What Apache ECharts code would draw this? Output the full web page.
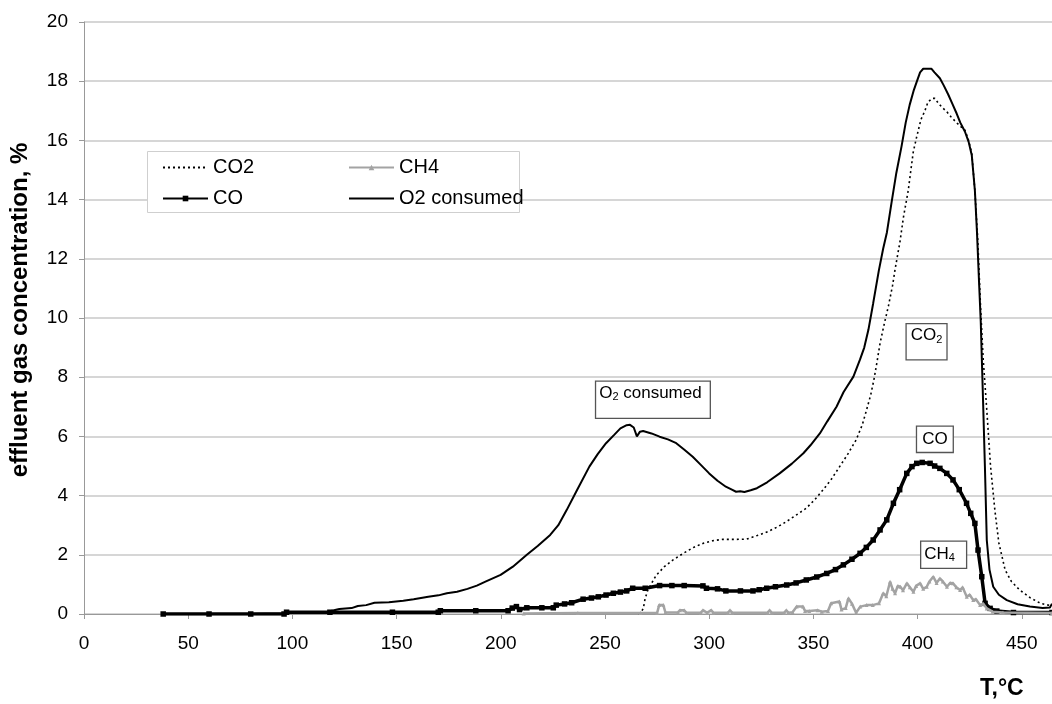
<!DOCTYPE html>
<html>
<head>
<meta charset="utf-8">
<script src="https://cdn.jsdelivr.net/npm/echarts@6/dist/echarts.min.js"></script>
<style>
html,body{margin:0;padding:0;background:#fff;}
#chart{width:1052px;height:704px;}
</style>
</head>
<body>
<div id="chart"></div>
<script>
// ---- data (temperature °C, concentration %) ----
const co2Data = [
  [266,0],[267.5,0.08],[268.4,0.19],[269.2,0.5],[270.5,0.8],[272.4,1.04],[274.5,1.3],[278.5,1.6],
  [282.5,1.82],[287.6,2.05],[292.5,2.25],[297.5,2.4],[302,2.48],[306.5,2.52],[312,2.52],[318,2.53],
  [323,2.65],[328,2.78],[333,2.95],[337,3.12],[341.5,3.33],[346.5,3.57],[350.5,3.85],[354.6,4.19],
  [358.6,4.55],[362.6,4.98],[366.5,5.4],[370.5,5.88],[373.5,6.4],[375.5,6.89],[377.5,7.4],[379,7.9],
  [380.5,8.5],[382,9.15],[384,9.8],[386,10.4],[388,11.1],[389.1,11.6],[391.6,12.6],[393.2,13.4],
  [395.5,14.3],[397.9,15.6],[399.5,16.1],[401.6,16.7],[403.5,17.0],[405,17.3],[407,17.42],[408.3,17.42],
  [410,17.25],[412,17.1],[414,16.97],[416,16.8],[418.7,16.6],[421,16.45],[422.7,16.35],[424.5,16.0],
  [426,15.56],[427.5,14.3],[428.9,12.6],[430.2,10.4],[431.5,8.6],[433.2,6.9],[435,5.0],[437.1,3.5],
  [439,2.4],[442,1.49],[445,1.1],[449,0.81],[454,0.55],[459,0.36],[464.5,0.27]
];
const coData = [
  [38,0],[60,0],[80,0],[96,0],[97.2,0.06],[118,0.06],[148,0.06],[170,0.06],[171,0.11],[188,0.11],
  [203.5,0.11],[205.5,0.2],[207.5,0.25],[209,0.15],[212.5,0.21],[219.7,0.21],[225.2,0.21],[226.6,0.3],
  [230.6,0.34],[234,0.38],[239.5,0.5],[243.5,0.54],[246.8,0.58],[250.5,0.64],[254,0.7],[257.4,0.74],
  [260.4,0.78],[263.3,0.87],[269.3,0.87],[276.2,0.96],[282.1,0.96],[288,0.96],[297,0.95],[298.7,0.87],
  [304,0.85],[308,0.78],[315,0.78],[321,0.78],[324,0.82],[327.6,0.87],[331.8,0.92],[337.2,0.98],
  [341.7,1.05],[346.6,1.15],[351.6,1.25],[356.4,1.37],[360.6,1.5],[364.4,1.66],[368.5,1.85],[372.4,2.05],
  [375.4,2.25],[378.7,2.5],[382,2.84],[385.2,3.18],[388.4,3.74],[391.4,4.2],[394.8,4.75],[397.3,4.98],
  [399.6,5.09],[402.2,5.12],[406,5.09],[408.2,5.0],[410.7,4.92],[414,4.75],[417,4.53],[420,4.2],
  [423.5,3.74],[425.5,3.4],[427.5,3.06],[429,2.16],[430.8,1.26],[432.4,0.36],[434.8,0.19],[438,0.1],
  [446,0.05],[464.5,0.05]
];
const ch4Data = [
  [211,0.02],[237,0.03],[267,0.03],[275,0.03],[276,0.3],[278,0.3],[279,0.05],[285,0.05],[286,0.13],
  [288,0.13],[289,0.04],[296,0.04],[297,0.13],[299,0.04],[301,0.13],[302,0.04],[309,0.04],[310,0.13],
  [311,0.04],[328,0.04],[329,0.13],[330,0.04],[336,0.04],[337,0.13],[338,0.04],[340,0.06],[342,0.25],
  [345,0.25],[346,0.1],[348,0.1],[352,0.13],[354,0.08],[357,0.1],[358.5,0.36],[362.5,0.42],[363.5,0.15],
  [365.5,0.2],[366.8,0.53],[368.5,0.35],[370.5,0.04],[372.5,0.25],[375.5,0.3],[378.5,0.3],[381.5,0.36],
  [383.5,0.7],[385,0.6],[386.8,1.09],[388,0.85],[389.2,0.7],[390.5,0.95],[391.7,0.92],[393,0.8],
  [394.9,1.04],[396.3,0.9],[398,0.75],[399.3,0.95],[401.2,1.04],[402.7,0.85],[404.4,0.92],[405.7,1.1],
  [407.5,1.26],[409.1,1.05],[410.7,1.2],[412.1,1.1],[414.1,0.92],[415.6,1.05],[417,1.04],[418.6,0.9],
  [420.4,0.81],[421.6,0.9],[423.6,0.58],[425,0.65],[426.7,0.47],[428,0.5],[430,0.3],[431.5,0.35],
  [433.2,0.19],[436,0.08],[441,0.05],[464.5,0.03]
];
const o2Data = [
  [38,0],[59,0],[79,0],[95.7,0.02],[98.7,0.05],[108.6,0.05],[116.5,0.06],[119.5,0.12],[122.5,0.17],
  [128.4,0.2],[131.4,0.27],[135.4,0.3],[139.4,0.38],[146.3,0.4],[153.2,0.45],[158.2,0.5],[165.2,0.58],
  [170.1,0.63],[174.1,0.7],[179,0.75],[184,0.85],[188.5,0.96],[192.9,1.1],[199.9,1.32],[205.8,1.6],
  [212.5,2.0],[217.7,2.3],[223.7,2.67],[227.6,3.0],[231.6,3.51],[236.6,4.19],[242.5,4.98],[246.5,5.4],
  [250.5,5.77],[254.4,6.05],[257.4,6.27],[260.4,6.38],[262,6.39],[263.8,6.3],[265.3,6.0],[266.8,6.16],
  [268.3,6.18],[272.3,6.1],[276.2,5.99],[280.2,5.9],[284.2,5.77],[288.1,5.55],[292.1,5.31],[296.1,5.03],
  [300,4.75],[304,4.5],[308,4.3],[310.9,4.2],[312.9,4.13],[314.9,4.15],[316.9,4.12],[319.9,4.18],
  [322.9,4.25],[327.8,4.45],[333.8,4.75],[339.7,5.08],[345.2,5.43],[348.6,5.7],[353.1,6.1],[356.6,6.5],
  [361.1,7.0],[364.5,7.5],[369.2,8.02],[372.4,8.6],[374.4,9.0],[376.4,9.6],[378.7,10.5],[381.4,11.6],
  [383.5,12.35],[385.3,12.9],[387.5,13.9],[389.8,14.9],[392.3,15.8],[394.3,16.6],[396.2,17.2],
  [398.2,17.7],[399.7,18.0],[401.2,18.3],[402.7,18.42],[406.7,18.42],[408.1,18.3],[410.7,18.1],
  [412.6,17.85],[414.7,17.55],[416.6,17.25],[418.8,16.9],[420.5,16.6],[422.7,16.3],[424.5,15.95],
  [426,15.5],[427.5,14.3],[428.5,12.9],[429.5,11.2],[430.3,9.9],[431.5,7.0],[432.3,5.0],[433.2,2.5],
  [434.5,1.5],[436.3,0.92],[439,0.65],[442.8,0.47],[448,0.33],[453.9,0.25],[460,0.2],[463.5,0.22],[464.5,0.35]
];
const seriesNames = ['CO2', 'CO', 'CH4', 'O2 consumed'];
const xRange = [0, 464.5];
const yRange = [0, 20];
const xTitle = 'T,°C';
const yTitle = 'effluent gas concentration, %';
// annotation labels anchored in data space [T, %]
const annotations = [
  { coord: [273.0, 7.24], text: '{a|O}{b|2}{a| consumed}' },
  { coord: [404.3, 9.2], text: '{a|CO}{b|2}' },
  { coord: [408.3, 5.9], text: '{a|CO}' },
  { coord: [412.5, 2.0], text: '{a|CH}{b|4}' }
];
const annotationPadding = [[2, 8, 15, 3], [2, 4, 14, 4], [3, 5, 3, 5], [3, 11, 4, 3]];

const FONT = 'Liberation Sans, Arial, sans-serif';
const chart = echarts.init(document.getElementById('chart'), null, { renderer: 'canvas' });
const noMarker = { color: 'rgba(0,0,0,0)', borderWidth: 0, opacity: 0 };
const legendText = { fontSize: 20, lineHeight: 21, color: '#000', fontFamily: FONT };

const option = {
  animation: false,
  backgroundColor: '#ffffff',
  textStyle: { fontFamily: FONT },
  grid: { left: 84, top: 22, right: 0, bottom: 90 },
  xAxis: {
    type: 'value', min: xRange[0], max: xRange[1], interval: 50,
    axisLine: { lineStyle: { color: '#999', width: 1 } },
    axisTick: { show: true, length: 5, lineStyle: { color: '#999' } },
    axisLabel: { fontSize: 19, color: '#000', margin: 20, showMaxLabel: false, fontFamily: FONT },
    splitLine: { show: false }
  },
  yAxis: {
    type: 'value', min: yRange[0], max: yRange[1], interval: 2,
    name: yTitle, nameLocation: 'middle', nameGap: 52, nameRotate: 90,
    nameTextStyle: { fontSize: 24, fontWeight: 'bold', color: '#000', fontFamily: FONT, padding: [0, 0, 0, 16] },
    axisLine: { show: true, lineStyle: { color: '#999', width: 1 } },
    axisTick: { show: true, length: 5, lineStyle: { color: '#999' } },
    axisLabel: { fontSize: 19, color: '#000', margin: 16, fontFamily: FONT },
    splitLine: { show: true, lineStyle: { color: '#c8c8c8', width: 1.5 } }
  },
  legend: [
    {
      orient: 'vertical', left: 162, top: 157, padding: 0, itemWidth: 45, itemHeight: 7, itemGap: 10, z: 10,
      data: [{ name: seriesNames[0], itemStyle: noMarker }, { name: seriesNames[1] }],
      textStyle: legendText
    },
    {
      orient: 'vertical', left: 348, top: 157, padding: 0, itemWidth: 45, itemHeight: 7, itemGap: 10, z: 10,
      data: [{ name: seriesNames[2] }, { name: seriesNames[3], itemStyle: noMarker }],
      textStyle: legendText
    }
  ],
  graphic: [
    {
      type: 'rect', z: 5, left: 147, top: 151,
      shape: { width: 372, height: 61 },
      style: { fill: '#fff', stroke: '#cfcfcf', lineWidth: 1 }
    },
    {
      type: 'text', z: 5, left: 980, top: 677,
      style: { text: xTitle, font: 'bold 23px ' + FONT, fill: '#000' }
    }
  ],
  series: [
    {
      name: seriesNames[0], type: 'line', data: co2Data, symbol: 'none', z: 2,
      lineStyle: { color: '#000', width: 1.6, type: [2, 3] }, itemStyle: { color: '#000' }
    },
    {
      name: seriesNames[1], type: 'line', data: coData, symbol: 'rect', symbolSize: 5.5, showSymbol: true, z: 3,
      lineStyle: { color: '#000', width: 3.5 }, itemStyle: { color: '#000' }
    },
    {
      name: seriesNames[2], type: 'line', data: ch4Data, symbol: 'triangle', symbolSize: 4, showSymbol: true, z: 4,
      lineStyle: { color: '#a3a3a3', width: 2.5 }, itemStyle: { color: '#a3a3a3' }
    },
    {
      name: seriesNames[3], type: 'line', data: o2Data, symbol: 'none', z: 5,
      lineStyle: { color: '#000', width: 2 }, itemStyle: { color: '#000' },
      markPoint: {
        symbol: 'rect', symbolSize: 1, itemStyle: { color: 'rgba(0,0,0,0)' }, z: 6,
        label: {
          show: true, position: 'inside', color: '#000', backgroundColor: '#fff',
          borderColor: '#555', borderWidth: 1.3, fontFamily: FONT,
          rich: {
            a: { fontSize: 17, lineHeight: 19, fontFamily: FONT, color: '#000' },
            b: { fontSize: 11, lineHeight: 11, padding: [8, 0, 0, 0], fontFamily: FONT, color: '#000' }
          }
        },
        data: annotations.map((a, i) => ({
          coord: a.coord,
          label: { formatter: a.text, padding: annotationPadding[i] }
        }))
      }
    }
  ]
};
chart.setOption(option);
</script>
</body>
</html>
